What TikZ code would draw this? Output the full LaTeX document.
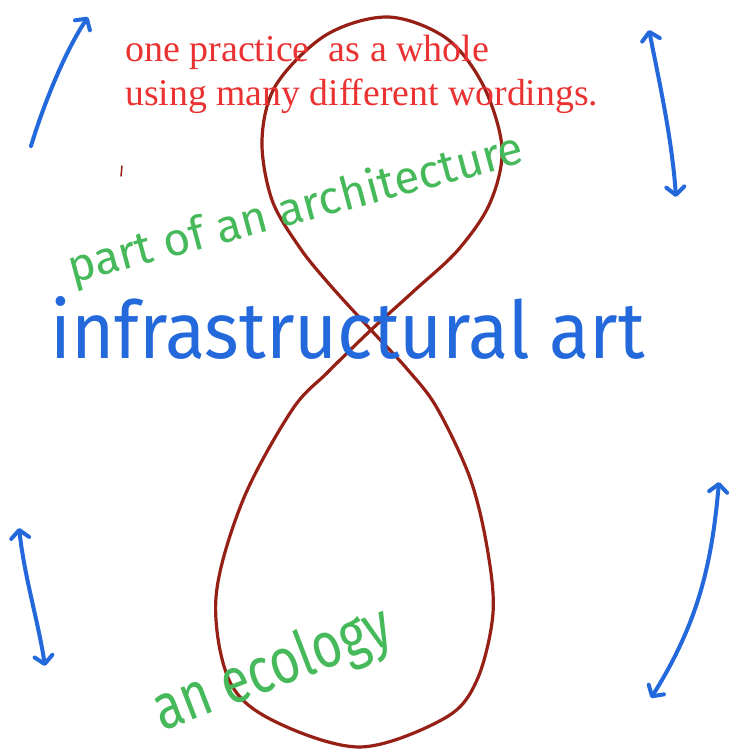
\documentclass[tikz,border=0pt]{standalone}
\usepackage{fontspec}
\usepackage{graphicx}
\usetikzlibrary{arrows.meta}
\setmainfont{Liberation Serif}
\newfontfamily\handfont{Fira Sans}
\definecolor{loopbrown}{RGB}{150,32,22}
\definecolor{penblue}{RGB}{35,105,220}
\definecolor{pengreen}{RGB}{70,185,90}
\definecolor{typered}{RGB}{235,50,50}
\tikzset{
  loopline/.style={draw=loopbrown,line width=3.2pt},
  bluearrow/.style={draw=penblue,line width=4pt,line cap=round,
     >={Straight Barb[length=8pt,width=18pt,round]}},
  typed/.style={inner sep=0pt,text=typered,anchor=base west},
  handgreen/.style={inner sep=0pt,text=pengreen,anchor=base west},
  handblue/.style={inner sep=0pt,text=penblue,anchor=base west},
}
\begin{document}
\begin{tikzpicture}[x=1pt,y=-1pt]
\useasboundingbox (0,0) rectangle (733,750);
\fill[white] (0,0) rectangle (733,750);

% figure eight
\draw[loopline] plot[smooth cycle,tension=0.55] coordinates {
 (371,330) (330,285) (300,248) (272,200) (262,140) (276,85) (326,35) (388,17)
 (446,38) (483,85) (502,148) (490,203) (458,250) (415,290) (371,330)
 (328,372) (292,410) (243,500) (216,597) (229,680) (272,720) (360,747)
 (445,718) (477,680) (493,613) (487,547) (470,478) (437,408) (408,370)};

% typed red text
\node[typed] (t1) at (125,61) {\resizebox{364pt}{!}{\fontsize{36}{40}\selectfont one practice\ \ as a whole}};
\node[typed] (t2) at (125,105) {\resizebox{473pt}{!}{\fontsize{36}{40}\selectfont using many different wordings.}};

% handwritten texts
\node[handgreen,rotate=15] (arch) at (72,284) {\resizebox{470pt}{36pt}{\handfont\fontsize{40}{44}\selectfont part of an architecture}};
\node[handblue] (infra) at (50,358) {\resizebox{595pt}{62pt}{\handfont\fontsize{60}{66}\selectfont infrastructural art}};
\node[handgreen,rotate=21] (eco) at (162,732) {\resizebox{250pt}{48pt}{\handfont\fontsize{40}{44}\selectfont an ecology}};

% arrows
\coordinate (a1s) at (31,146);
\coordinate (a1e) at (88,17);
\draw[bluearrow,->] (a1s) .. controls (45,100) and (66,50) .. (a1e);

\coordinate (a2s) at (649,30);
\coordinate (a2e) at (676,197);
\draw[bluearrow,<->] (a2s) .. controls (660,85) and (672,140) .. (a2e);

\coordinate (a3s) at (19,528);
\coordinate (a3e) at (45,666);
\draw[bluearrow,<->] (a3s) .. controls (25,580) and (38,620) .. (a3e);

\coordinate (a4s) at (719,482);
\coordinate (a4e) at (651,698);
\draw[bluearrow,<->] (a4s) .. controls (712,560) and (700,620) .. (a4e);

% small stray mark
\draw[loopbrown,line width=1.5pt,line cap=round] (122,166) -- (121,176);
\end{tikzpicture}
\end{document}
